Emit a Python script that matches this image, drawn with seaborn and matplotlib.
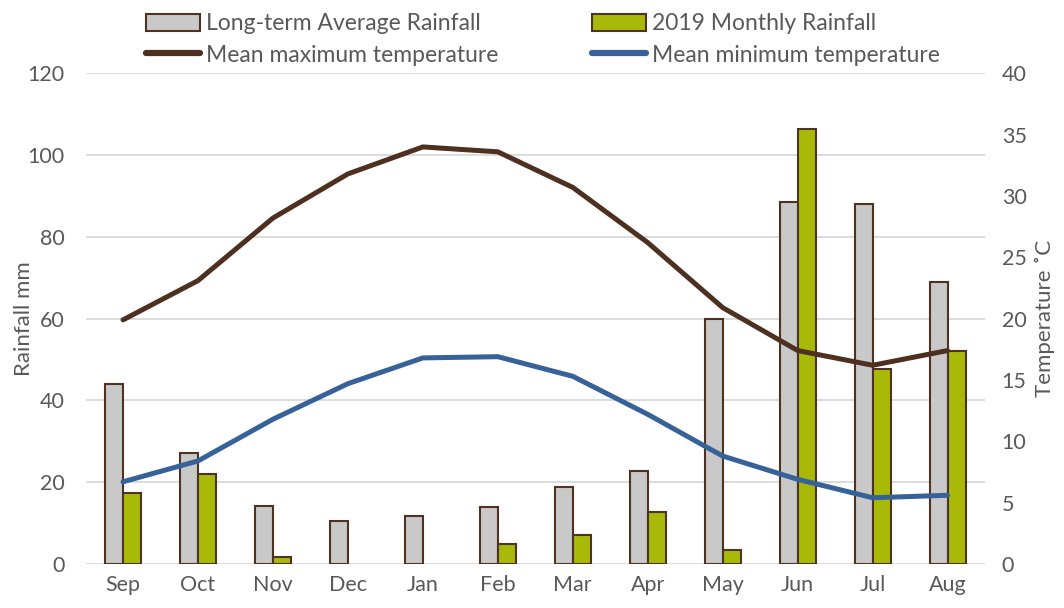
import matplotlib
matplotlib.use("Agg")
import matplotlib.pyplot as plt
from matplotlib.patches import Patch
from matplotlib.lines import Line2D
import seaborn as sns
import numpy as np
import pandas as pd

months = ["Sep", "Oct", "Nov", "Dec", "Jan", "Feb", "Mar", "Apr", "May", "Jun", "Jul", "Aug"]
long_term_rain = [43.9, 27.2, 14.2, 10.6, 11.7, 13.9, 18.8, 22.8, 59.8, 88.5, 88.0, 68.9]
rain_2019 = [17.3, 22.0, 1.8, 0.0, 0.0, 4.9, 7.1, 12.8, 3.4, 106.5, 47.7, 52.2]
max_temp = [19.9, 23.1, 28.2, 31.8, 34.0, 33.6, 30.7, 26.2, 20.9, 17.4, 16.2, 17.4]
min_temp = [6.7, 8.4, 11.8, 14.7, 16.8, 16.9, 15.3, 12.2, 8.8, 6.9, 5.4, 5.6]

series_names = ["Long-term Average Rainfall", "2019 Monthly Rainfall"]
bar_colors = ["#C9C9C9", "#A8B907"]
edge = "#4E3322"
max_col = "#4E3020"
min_col = "#376299"
txt = "#595959"

sns.set_theme(style="white")
plt.rcParams["font.family"] = ["Lato", "DejaVu Sans"]

rain = pd.DataFrame({
    "month": months * 2,
    "series": [series_names[0]] * 12 + [series_names[1]] * 12,
    "mm": long_term_rain + rain_2019,
})

fig = plt.figure(figsize=(10.64, 6.08), dpi=100)
ax = fig.add_axes([0.0804, 0.0724, 0.8454, 0.807])

sns.barplot(data=rain, x="month", y="mm", hue="series", order=months,
            hue_order=series_names, palette=bar_colors, width=0.48, saturation=1,
            edgecolor=edge, linewidth=1.5, ax=ax, legend=False, zorder=2)
# Excel draws nothing for a zero month
for p in ax.patches:
    if p.get_height() == 0:
        p.set_visible(False)

ax.set_ylim(0, 120)
ax.set_yticks(range(0, 121, 20))
ax.set_xlim(-0.5, 11.5)
ax.yaxis.grid(True, color="#D9D9D9", linewidth=1.3, zorder=0)
ax.set_axisbelow(True)
for s in ax.spines.values():
    s.set_visible(False)
ax.set_xlabel("")
ax.set_ylabel("Rainfall mm", fontsize=16, color=txt)
ax.yaxis.set_label_coords(-0.057, 0.5)
ax.tick_params(axis="both", length=0, labelsize=15.5, labelcolor=txt)
ax.tick_params(axis="x", pad=8)
ax.tick_params(axis="y", pad=15)

ax2 = ax.twinx()
x = np.arange(len(months))
sns.lineplot(x=x, y=max_temp, color=max_col, linewidth=3.6, ax=ax2, zorder=3)
sns.lineplot(x=x, y=min_temp, color=min_col, linewidth=3.6, ax=ax2, zorder=3)
ax2.set_ylim(0, 40)
ax2.set_yticks(range(0, 41, 5))
ax2.set_xlim(-0.5, 11.5)
for s in ax2.spines.values():
    s.set_visible(False)
ax2.grid(False)
ax2.set_ylabel("Temperature ˚C", fontsize=16, color=txt)
ax2.yaxis.set_label_coords(1.055, 0.5)
ax2.tick_params(axis="y", length=0, labelsize=15.5, labelcolor=txt, pad=12)

handles = [
    Patch(facecolor=bar_colors[0], edgecolor=edge, linewidth=1.5),
    Line2D([0], [0], color=max_col, linewidth=4.5),
    Patch(facecolor=bar_colors[1], edgecolor=edge, linewidth=1.5),
    Line2D([0], [0], color=min_col, linewidth=4.5),
]
labels = [series_names[0], "Mean maximum temperature", series_names[1], "Mean minimum temperature"]
fig.legend(handles, labels, ncol=2, loc="upper left", bbox_to_anchor=(0.118, 1.012),
           frameon=False, fontsize=16.5, labelcolor=txt, handlelength=2.35,
           handleheight=0.75, handletextpad=0.25, columnspacing=4.1, labelspacing=0.45)

fig.savefig("out.png", dpi=100)
